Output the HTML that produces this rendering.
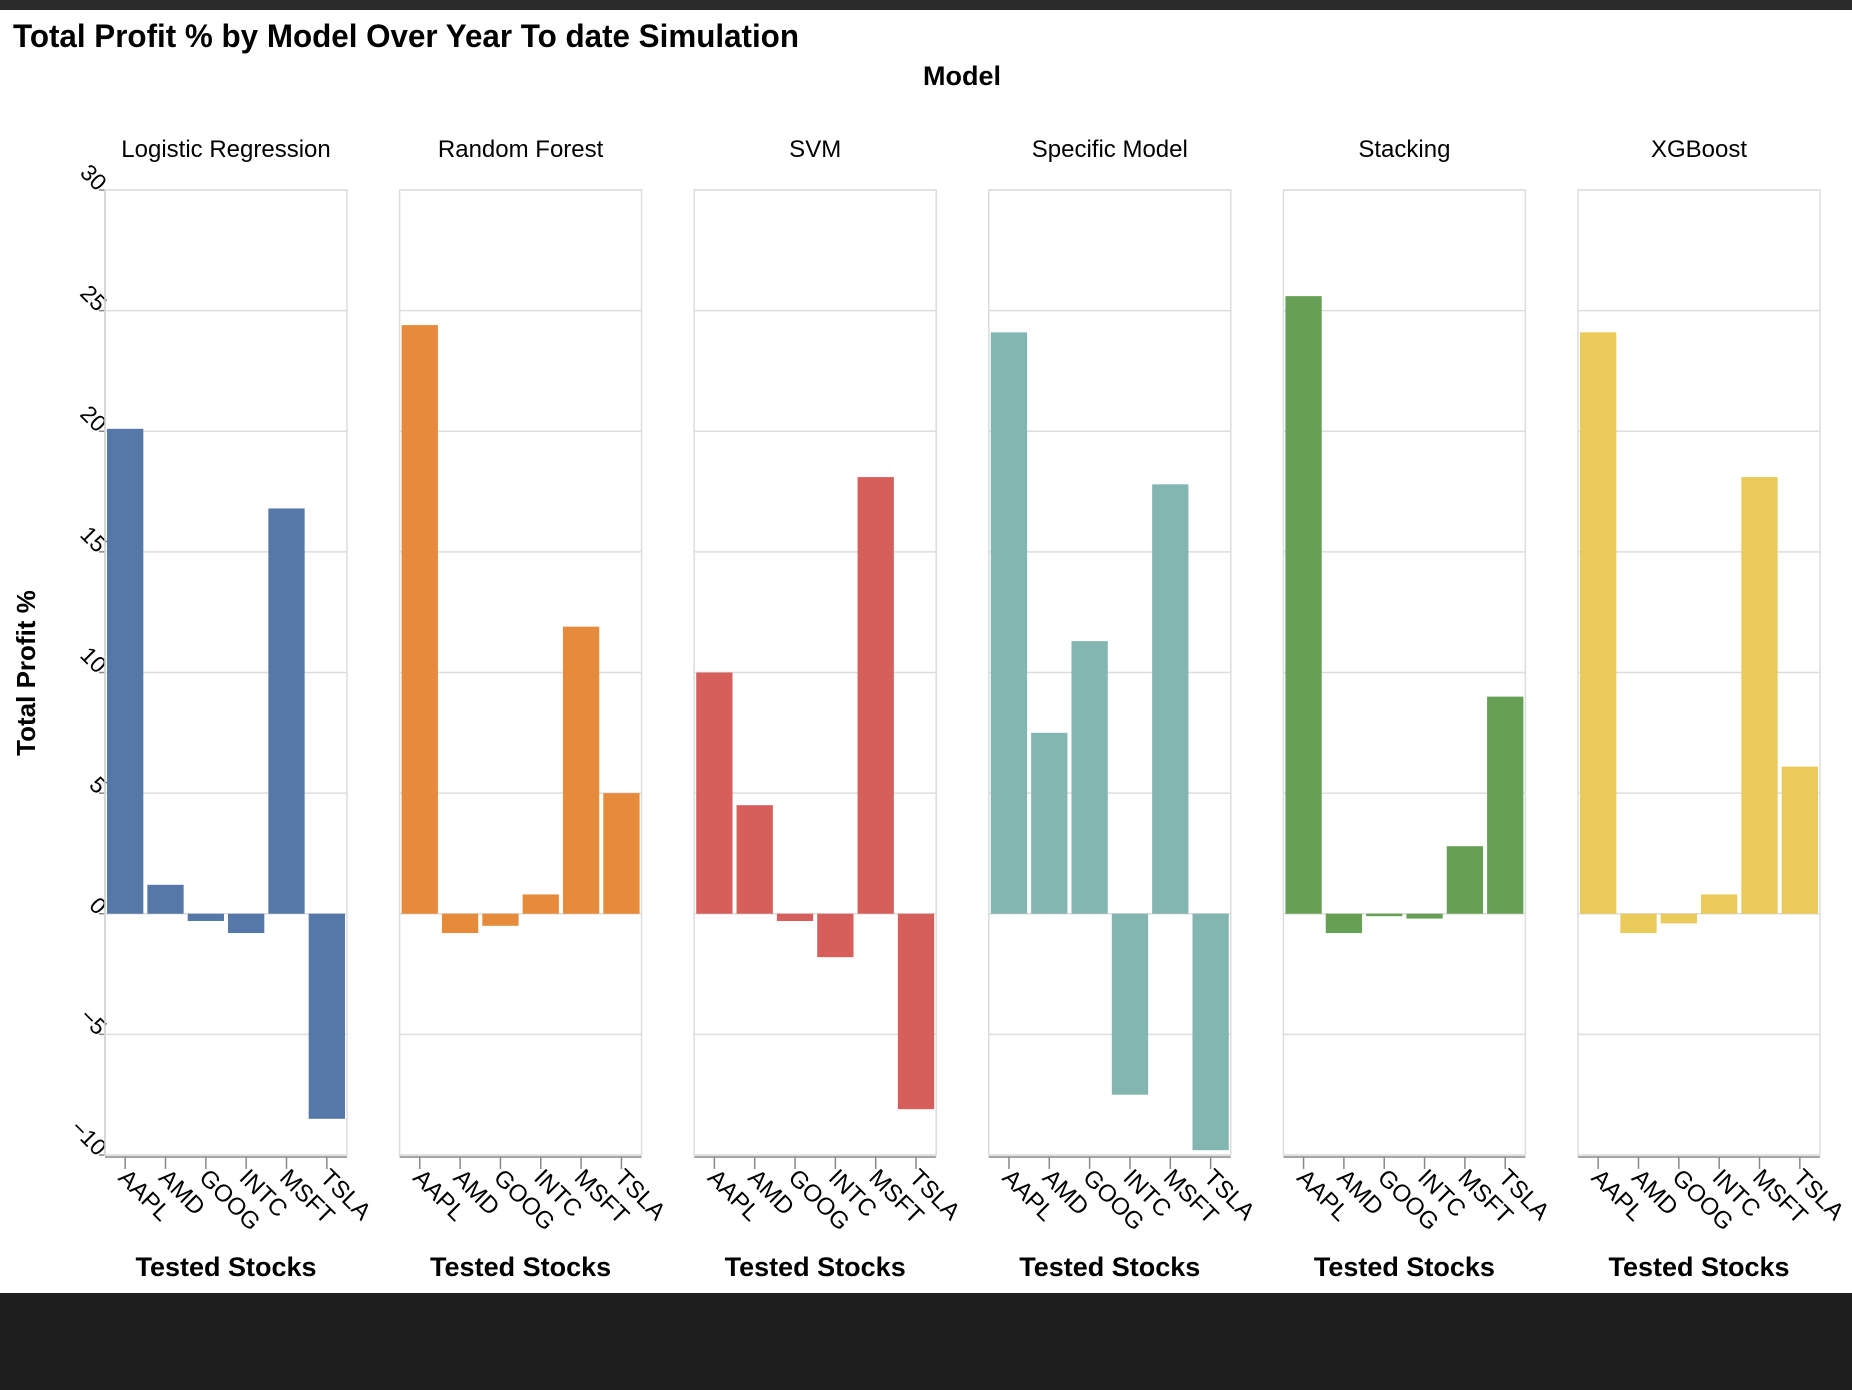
<!DOCTYPE html>
<html><head><meta charset="utf-8">
<style>
html,body{margin:0;padding:0;background:#fff;}
body{width:1852px;height:1390px;overflow:hidden;position:relative;font-family:"Liberation Sans",Arial,sans-serif;}
#topbar{position:absolute;left:0;top:0;width:1852px;height:10px;background:#2a2a2a;}
#bottombar{position:absolute;left:0;top:1293px;width:1852px;height:97px;background:#1e1e1e;}
svg{position:absolute;left:0;top:0;}
</style></head>
<body>
<div id="topbar"></div>
<svg id="chart" width="1852" height="1390"></svg>
<div id="bottombar"></div>
<script>
const models = ["Logistic Regression","Random Forest","SVM","Specific Model","Stacking","XGBoost"];
const stocks = ["AAPL","AMD","GOOG","INTC","MSFT","TSLA"];
const lrValues = [20.1, 1.2, -0.3, -0.8, 16.8, -8.5];
const rfValues = [24.4, -0.8, -0.5, 0.8, 11.9, 5.0];
const svmValues = [10.0, 4.5, -0.3, -1.8, 18.1, -8.1];
const specificValues = [24.1, 7.5, 11.3, -7.5, 17.8, -9.8];
const stackingValues = [25.6, -0.8, -0.1, -0.2, 2.8, 9.0];
const xgbValues = [24.1, -0.8, -0.4, 0.8, 18.1, 6.1];
const yTicks = [30, 25, 20, 15, 10, 5, 0, -5, -10];

const series = [lrValues, rfValues, svmValues, specificValues, stackingValues, xgbValues];
const colors = ["#5578a8","#e68b3b","#d65f5c","#83b5b1","#66a055","#e9ca5a"];
const NS = "http://www.w3.org/2000/svg";
const svg = document.getElementById('chart');
const plotTop = 190, plotBottom = 1155, yMin = -10, yMax = 30;
const panelW = 242, panelStep = 294.6, panelX0 = 105;
function y(v){ return plotTop + (yMax - v) / (yMax - yMin) * (plotBottom - plotTop); }
function px(p){ return panelX0 + p * panelStep; }
const band = panelW / 6;
function bx(i){ return band * i + band * 0.05; }
function mk(tag, attrs, parent){ const e = document.createElementNS(NS, tag); for (const k in attrs) e.setAttribute(k, attrs[k]); (parent||svg).appendChild(e); return e; }

let t = mk('text', {x:13, y:47, 'font-size':32, 'font-weight':'bold', fill:'#000', textLength:786, lengthAdjust:'spacingAndGlyphs'});
t.textContent = "Total Profit % by Model Over Year To date Simulation";


t = mk('text', {x:962, y:85, 'font-size':27, 'font-weight':'bold', 'text-anchor':'middle', fill:'#000'});
t.textContent = "Model";


t = mk('text', {x:0, y:0, 'font-size':26, 'font-weight':'bold', 'text-anchor':'middle', fill:'#000', transform:'translate(35,673) rotate(-90)'});
t.textContent = "Total Profit %";



const yAxis = mk('g', {});


mk('line', {x1:px(0), x2:px(0), y1:plotTop, y2:plotBottom, stroke:'#888', 'stroke-width':1.5}, yAxis);
yTicks.forEach(v => {
  mk('line', {x1:px(0)-6, x2:px(0), y1:y(v), y2:y(v), stroke:'#888', 'stroke-width':1.5}, yAxis);
  const lb = mk('text', {x:0, y:0, 'font-size':23, fill:'#000', 'text-anchor':'end', transform:`translate(${px(0)-8},${y(v)+2}) rotate(45)`}, yAxis);
  lb.textContent = v < 0 ? '\u2212' + Math.abs(v) : String(v);
  
  
});

models.forEach((m, p) => {
  const g = mk('g', {transform:`translate(${px(p)},0)`});
  
  
  const ft = mk('text', {x:panelW/2, y:157, 'font-size':24, 'text-anchor':'middle', fill:'#000'}, g);
  ft.textContent = m;
  
  
  mk('rect', {x:0, y:plotTop, width:panelW, height:plotBottom-plotTop, fill:'none', stroke:'#ddd', 'stroke-width':1.5}, g);
  yTicks.forEach(v => mk('line', {x1:0, x2:panelW, y1:y(v), y2:y(v), stroke:'#ddd', 'stroke-width':1.5}, g));
  series[p].forEach((v, i) => {
    const r = mk('rect', {x:bx(i), y:Math.min(y(v), y(0)), width:band*0.9, height:Math.abs(y(v)-y(0)), fill:colors[p]}, g);
    
    
  });
  mk('line', {x1:0, x2:panelW, y1:plotBottom+2, y2:plotBottom+2, stroke:'#888', 'stroke-width':1.5}, g);
  stocks.forEach((s, i) => {
    const cx = bx(i) + band*0.45;
    mk('line', {x1:cx, x2:cx, y1:plotBottom+2, y2:plotBottom+14, stroke:'#888', 'stroke-width':1.5}, g);
    const lb = mk('text', {x:0, y:0, 'font-size':24, fill:'#000', transform:`translate(${cx-8},${plotBottom+24}) rotate(45)`}, g);
    lb.textContent = s;
    
    
  });
  const xt = mk('text', {x:panelW/2, y:1276, 'font-size':27, 'font-weight':'bold', 'text-anchor':'middle', fill:'#000'}, g);
  xt.textContent = "Tested Stocks";
  
  
});
</script>
</body></html>
